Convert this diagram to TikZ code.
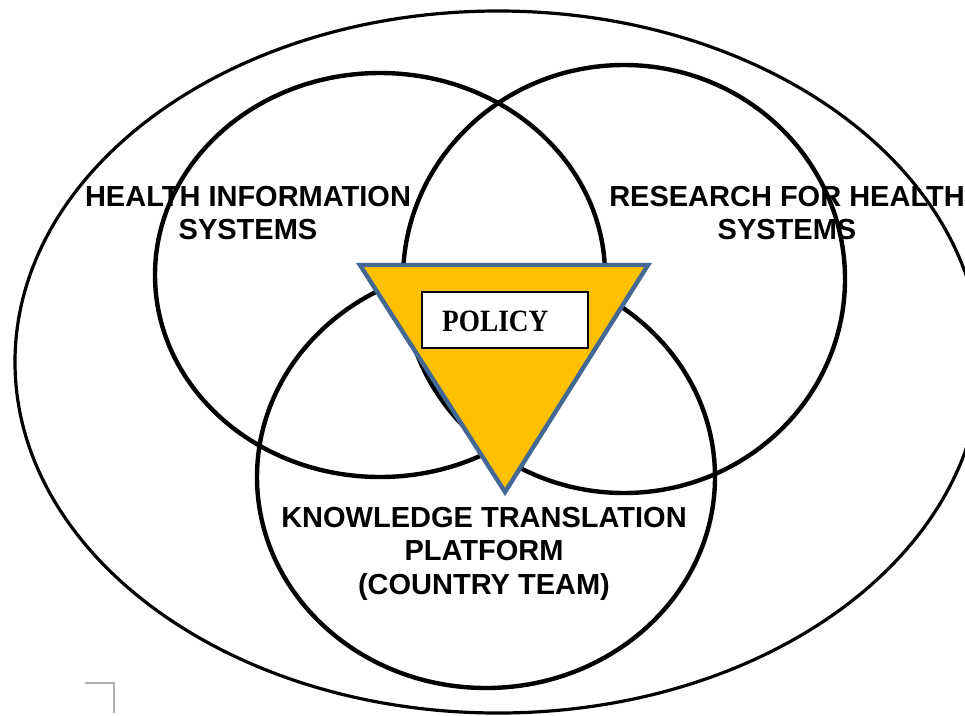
\documentclass[tikz,border=0pt]{standalone}
\usepackage{fontspec}
\usepackage{graphicx}
\setmainfont{Liberation Serif}
\setsansfont{Liberation Sans}
\usetikzlibrary{shapes.geometric}
\definecolor{trifill}{RGB}{255,192,0}
\definecolor{triedge}{RGB}{68,104,148}
\definecolor{cornermark}{RGB}{175,175,175}
\begin{document}
\begin{tikzpicture}[x=1pt,y=-1pt,
  ring/.style={ellipse, draw=black, line width=4.4pt, inner sep=0pt},
  outerring/.style={ellipse, draw=black, line width=3.2pt, inner sep=0pt},
  lbl/.style={font=\sffamily\bfseries\fontsize{29}{33.5}\selectfont, align=center, anchor=north, inner sep=0pt},
  policytext/.style={anchor=base west, inner sep=0pt, font=\rmfamily\bfseries\fontsize{31}{31}\selectfont},
  policyframe/.style={draw=black, line width=2pt, fill=white, minimum width=166pt, minimum height=56pt, inner sep=0pt},
  tri/.style={fill=trifill, draw=triedge, line width=4.4pt},
  marker/.style={draw=cornermark, line width=1.5pt}
]
\path[use as bounding box, fill=white] (0,0) rectangle (965,715);
\node (outer) [outerring, minimum width=966pt, minimum height=702pt] at (498,362) {};
\node (his) [ring, minimum width=450pt, minimum height=404pt] at (380,275) {};
\node (rhs) [ring, minimum width=442pt, minimum height=428pt] at (624,279) {};
\node (ktp) [ring, minimum width=458pt, minimum height=422pt] at (486,477) {};
\coordinate (tl) at (360,265);
\coordinate (tr) at (648,265);
\coordinate (tb) at (505,492);
\draw[tri] (tl) -- (tr) -- (tb) -- cycle;
\node (policybox) [policyframe] at (505,320) {};
\node (policy) [policytext] at (442,331) {\scalebox{0.88}[1]{POLICY}};
\node (hislbl) [lbl] at (248,186) {HEALTH INFORMATION\\SYSTEMS};
\node (rhslbl) [lbl] at (787,186) {RESEARCH FOR HEALTH\\SYSTEMS};
\node (ktplbl) [lbl] at (484,507) {KNOWLEDGE TRANSLATION\\PLATFORM\\(COUNTRY TEAM)};
\coordinate (m1) at (85,683);
\coordinate (m2) at (114,683);
\coordinate (m3) at (114,713);
\draw[marker] (m1) -- (m2) -- (m3);
\end{tikzpicture}
\end{document}
